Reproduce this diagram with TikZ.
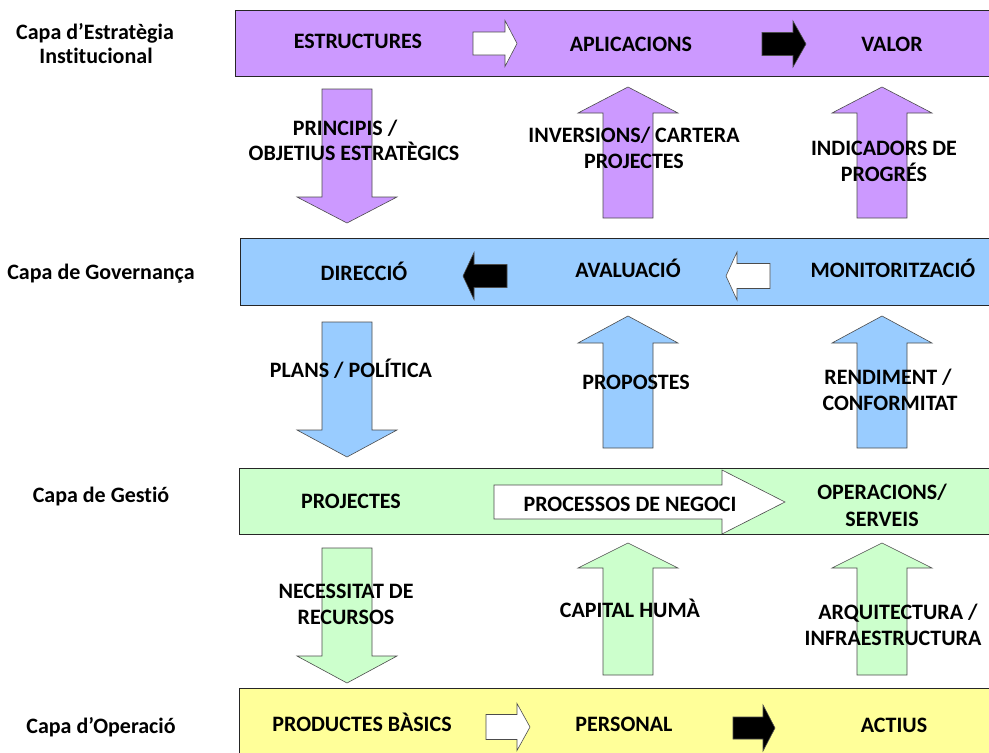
\documentclass[tikz,border=0pt]{standalone}
\usepackage{fontspec}
\setmainfont{Carlito}[RawFeature={-liga;-clig}]
\definecolor{purp}{HTML}{CC99FF}
\definecolor{bluef}{HTML}{99CCFF}
\definecolor{greenf}{HTML}{CCFFCC}
\definecolor{yelf}{HTML}{FFFF99}
\newcommand\VArrow[5]{\draw[arrowshape,fill=#5] ({#1-25},#4) -- ({#1-25},#3) -- ({#1-50},#3) -- (#1,#2) -- ({#1+50},#3) -- ({#1+25},#3) -- ({#1+25},#4) -- cycle;}
\newcommand\HArrow[7]{\draw[arrowshape,fill=#7] (#1,{#4-#5}) -- (#2,{#4-#5}) -- (#2,{#4-#6}) -- (#3,#4) -- (#2,{#4+#6}) -- (#2,{#4+#5}) -- (#1,{#4+#5}) -- cycle;}
\begin{document}
\begin{tikzpicture}[x=1pt,y=-1pt,
  band/.style={draw=black!85,line width=1pt},
  arrowshape/.style={draw=gray!60!black,line width=0.6pt},
  lbl/.style={font=\bfseries\fontsize{22}{26}\selectfont,anchor=base,inner sep=0pt}]
\useasboundingbox (0,0) rectangle (989,753);
% bands
\draw[band,fill=purp] (235,10) rectangle (995,76);
\draw[band,fill=bluef] (240,238) rectangle (995,305);
\draw[band,fill=greenf] (239,468) rectangle (995,534);
\draw[band,fill=yelf] (239,688) rectangle (995,760);
% horizontal arrows in bands
\HArrow{473}{505}{517}{43.5}{11.5}{23}{white}
\HArrow{762}{793}{806}{44}{11.5}{23}{black}
\HArrow{507}{474}{463}{276}{11.5}{23.5}{black}
\HArrow{770}{737}{726}{276}{12.5}{24}{white}
\HArrow{494}{722}{785}{502}{17}{32}{white}
\HArrow{486}{517}{530}{727}{12.5}{23.5}{white}
\HArrow{733}{763}{775}{728}{11}{23}{black}
% vertical arrows
\VArrow{347}{223}{197}{89}{purp}
\VArrow{628}{87}{113}{218}{purp}
\VArrow{882}{87}{113}{218}{purp}
\VArrow{347}{457}{430}{322}{bluef}
\VArrow{628}{316}{343}{448}{bluef}
\VArrow{882}{316}{343}{448}{bluef}
\VArrow{347}{683}{656}{548}{greenf}
\VArrow{628}{543}{568}{675}{greenf}
\VArrow{882}{543}{568}{675}{greenf}
% left labels
\node[lbl] (l1a) at (95,39) {Capa d’Estratègia};
\node[lbl] (l1b) at (96,63) {Institucional};
\node[lbl] (l2) at (101,279) {Capa de Governança};
\node[lbl] (l3) at (101,502) {Capa de Gestió};
\node[lbl] (l4) at (101,733) {Capa d’Operació};
% band texts
\node[lbl] (t1) at (358,48.5) {ESTRUCTURES};
\node[lbl] (t2) at (631,51) {APLICACIONS};
\node[lbl] (t3) at (892,51) {VALOR};
\node[lbl] (t4) at (364,280) {DIRECCIÓ};
\node[lbl] (t5) at (628,277) {AVALUACIÓ};
\node[lbl] (t6) at (893,277) {MONITORITZACIÓ};
\node[lbl] (t7) at (351,508) {PROJECTES};
\node[lbl] (t8) at (630,511) {PROCESSOS DE NEGOCI};
\node[lbl] (t9a) at (882,499) {OPERACIONS/};
\node[lbl] (t9b) at (882,526) {SERVEIS};
\node[lbl] (t10) at (362,731) {PRODUCTES BÀSICS};
\node[lbl] (t11) at (624,731) {PERSONAL};
\node[lbl] (t12) at (894,732) {ACTIUS};
% arrow labels
\node[lbl] (a1a) at (345,135) {PRINCIPIS /};
\node[lbl] (a1b) at (354,160) {OBJETIUS ESTRATÈGICS};
\node[lbl] (a2a) at (634,142) {INVERSIONS/ CARTERA};
\node[lbl] (a2b) at (634,168) {PROJECTES};
\node[lbl] (a3a) at (884,155) {INDICADORS DE};
\node[lbl] (a3b) at (884,181) {PROGRÉS};
\node[lbl] (b1) at (351,377) {PLANS / POLÍTICA};
\node[lbl] (b2) at (636,389) {PROPOSTES};
\node[lbl] (b3a) at (888,384) {RENDIMENT /};
\node[lbl] (b3b) at (890,410) {CONFORMITAT};
\node[lbl] (c1a) at (346,598) {NECESSITAT DE};
\node[lbl] (c1b) at (346,624) {RECURSOS};
\node[lbl] (c2) at (630,617) {CAPITAL HUMÀ};
\node[lbl] (c3a) at (898,619) {ARQUITECTURA /};
\node[lbl] (c3b) at (893,645) {INFRAESTRUCTURA};
\end{tikzpicture}
\end{document}
